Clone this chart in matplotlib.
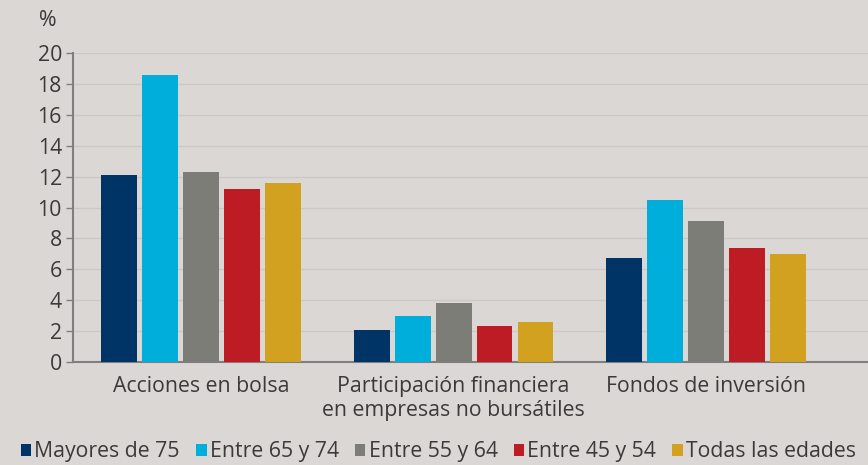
import numpy as np
import matplotlib
matplotlib.use('Agg')
import matplotlib.pyplot as plt
from matplotlib.patches import Patch

plt.rcParams['font.family'] = ['Open Sans', 'DejaVu Sans']

categories = ['Acciones en bolsa', 'Participación financiera\nen empresas no bursátiles', 'Fondos de inversión']
series_names = ['Mayores de 75', 'Entre 65 y 74', 'Entre 55 y 64', 'Entre 45 y 54', 'Todas las edades']
mayores_75 = [12.1, 2.1, 6.7]
entre_65_74 = [18.6, 3.0, 10.5]
entre_55_64 = [12.3, 3.8, 9.1]
entre_45_54 = [11.2, 2.3, 7.4]
todas = [11.6, 2.6, 7.0]
colors = ['#003366', '#00AEDC', '#7D7D78', '#BE1C24', '#D1A11F']

bg = '#DBD7D4'
txt = '#3A3A3A'
fs = 15.3

fig = plt.figure(figsize=(8.68, 4.65), dpi=100, facecolor=bg)
ax = fig.add_axes([0.0841, 0.2215, 0.9159, 0.6645], facecolor=bg)

x = np.arange(len(categories))
step = 0.162
width = 0.142
all_series = [mayores_75, entre_65_74, entre_55_64, entre_45_54, todas]
for i, vals in enumerate(all_series):
    ax.bar(x + (i - 2) * step, vals, width, color=colors[i], zorder=3)

ax.set_xlim(-0.506, 2.64)
ax.set_ylim(0, 20)
ax.set_yticks(range(0, 21, 2))
ax.set_xticks(x)
ax.set_xticklabels(categories, fontsize=fs, color=txt, linespacing=1.2)
ax.tick_params(axis='x', length=0, pad=10)
ax.tick_params(axis='y', length=5, width=1, color='#7F7F7F', labelsize=fs, labelcolor=txt, pad=3)
ax.grid(axis='y', color='#CCC8C5', linewidth=1, zorder=0)
for s in ['top', 'right']:
    ax.spines[s].set_visible(False)
for s in ['left', 'bottom']:
    ax.spines[s].set_color('#7F7F7F')
    ax.spines[s].set_linewidth(1.5)

fig.text(0.055, 0.955, '%', fontsize=fs, color=txt, ha='center', va='center')

handles = [Patch(facecolor=c, edgecolor='none') for c in colors]
fig.legend(handles, series_names, loc='lower center', bbox_to_anchor=(0.505, -0.035), ncol=5,
           frameon=False, fontsize=fs, labelcolor=txt, handlelength=0.5, handleheight=0.5,
           handletextpad=0.15, columnspacing=0.75)

fig.savefig('out.png', dpi=100, facecolor=bg)
